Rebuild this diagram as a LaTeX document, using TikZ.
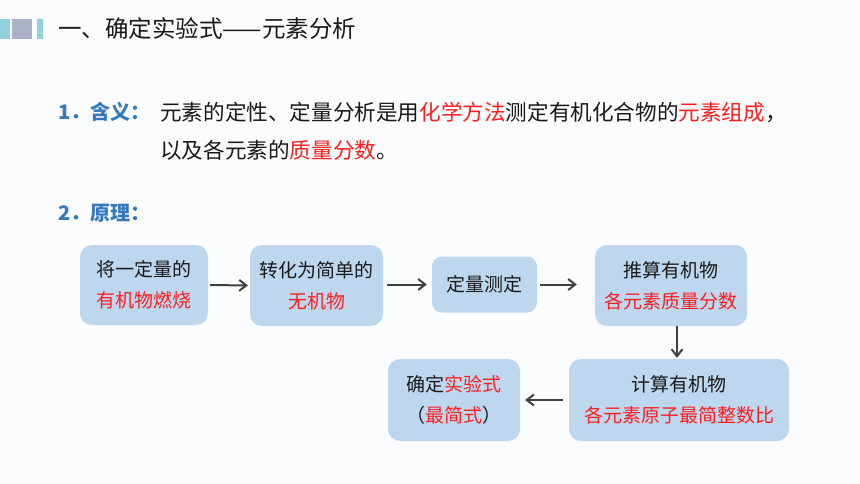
\documentclass[tikz,border=0pt]{standalone}
\usepackage{fontspec}
\setmainfont{Noto Sans CJK SC}
\usetikzlibrary{arrows.meta}

\definecolor{boxblue}{RGB}{189,215,238}
\definecolor{headblue}{RGB}{52,120,190}
\definecolor{keyred}{RGB}{255,30,30}
\definecolor{arrowgray}{RGB}{64,64,64}
\definecolor{barcyan}{RGB}{146,208,224}
\definecolor{bargray}{RGB}{168,178,200}
\definecolor{paper}{RGB}{251,252,253}

\tikzset{
  stepbox/.style={fill=boxblue, rounded corners=12pt, align=center, inner sep=0pt,
    font=\fontsize{19}{31}\selectfont, text=black!90},
  flow/.style={draw=arrowgray, line width=2pt, -{Straight Barb[length=7pt,width=11pt]}},
  line/.style={anchor=west, inner sep=0pt, font=\fontsize{21.6}{24}\selectfont, text=black!90},
  head/.style={anchor=west, inner sep=0pt, font=\fontsize{20}{24}\selectfont\bfseries, text=headblue},
}

\begin{document}
\begin{tikzpicture}[x=1pt,y=-1pt]
\fill[paper] (0,0) rectangle (860,484);
\useasboundingbox (0,0) rectangle (860,484);
% title bar
\fill[barcyan] (0,19) rectangle (10,39);
\fill[bargray] (12,19) rectangle (32,39);
\fill[barcyan] (37,19) rectangle (43,39);
\node[anchor=west, inner sep=0pt, font=\fontsize{23.5}{26}\selectfont, text=black!90] (title) at (58,29) {一、确定实验式——元素分析};
% meaning
\node[head] (meaning) at (58,112) {1．含义：};
\node[line] (def1) at (160,112) {元素的定性、定量分析是用\textcolor{keyred}{化学方法}测定有机化合物的\textcolor{keyred}{元素组成}，};
\node[line] (def2) at (160,150) {以及各元素的\textcolor{keyred}{质量分数}。};
\node[head] (principle) at (58,213) {2．原理：};
% flow chart
\node[stepbox, minimum width=128pt, minimum height=80pt] (burn) at (144,285) {将一定量的\\\textcolor{keyred}{有机物燃烧}};
\node[stepbox, minimum width=133pt, minimum height=81pt] (inorg) at (316.5,285.5) {转化为简单的\\\textcolor{keyred}{无机物}};
\node[stepbox, minimum width=105pt, minimum height=56pt, rounded corners=10pt] (measure) at (484.5,284.5) {定量测定};
\node[stepbox, minimum width=152pt, minimum height=81pt] (mass) at (671,285.5) {推算有机物\\\textcolor{keyred}{各元素质量分数}};
\node[stepbox, minimum width=220pt, minimum height=82pt] (ratio) at (679,400) {计算有机物\\\textcolor{keyred}{各元素原子最简整数比}};
\node[stepbox, minimum width=132pt, minimum height=82pt] (formula) at (454,400) {确定\textcolor{keyred}{实验式}\\（\textcolor{keyred}{最简式}）};

\draw[flow, shorten <=2pt, shorten >=2pt] (burn.east) -- (inorg.west);
\draw[flow, shorten <=4pt, shorten >=5pt] (inorg.east |- measure) -- (measure.west);
\draw[flow, shorten <=3pt, shorten >=18pt] (measure.east) -- (mass.west |- measure);
\draw[flow, shorten >=1pt] ([xshift=6pt]mass.south) -- ([xshift=6pt]mass.south |- ratio.north);
\draw[flow, shorten <=6pt, shorten >=5pt] (ratio.west) -- (formula.east);
\end{tikzpicture}
\end{document}
